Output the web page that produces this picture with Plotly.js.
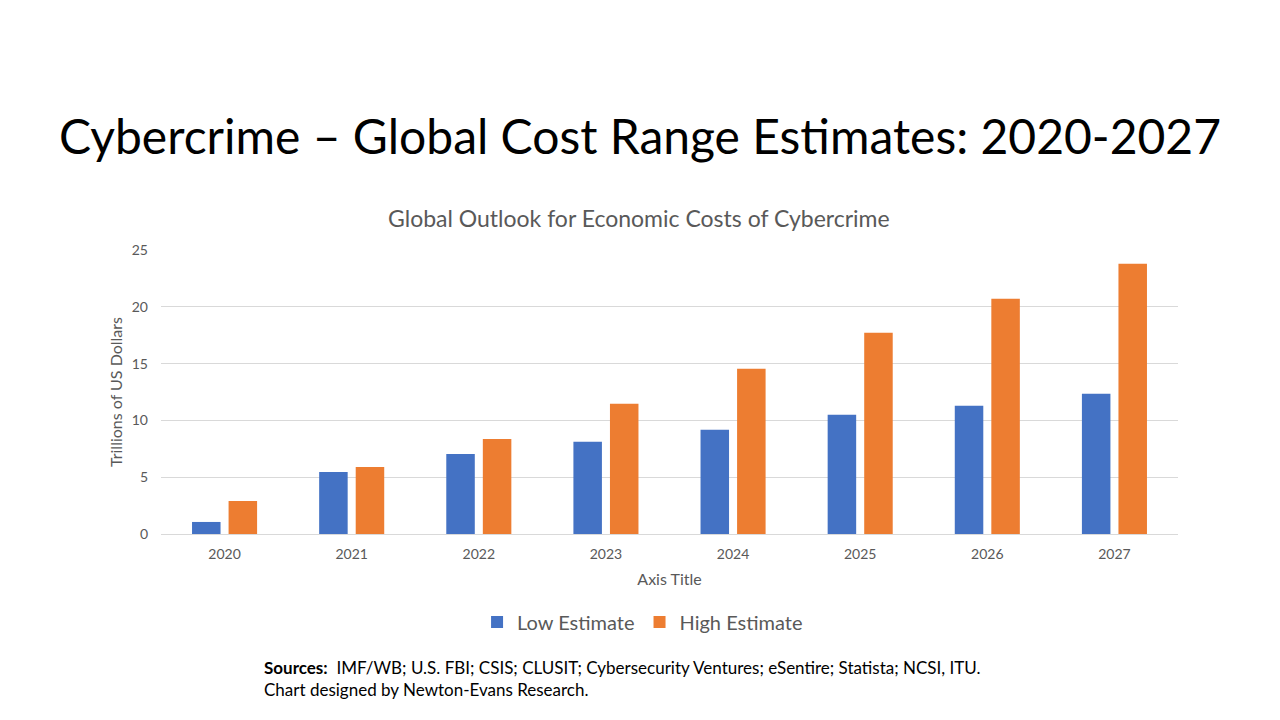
<!DOCTYPE html>
<html>
<head>
<meta charset="utf-8">
<script src="https://cdn.plot.ly/plotly-3.0.1.min.js"></script>
<style>html,body{margin:0;padding:0;background:#fff;}#chart{width:1280px;height:720px;}</style>
</head>
<body>
<div id="chart"></div>
<script>
const years = ["2020","2021","2022","2023","2024","2025","2026","2027"];
const lowEstimate = [1.06, 5.46, 7.05, 8.11, 9.17, 10.49, 11.28, 12.34];
const highEstimate = [2.91, 5.9, 8.37, 11.46, 14.54, 17.71, 20.71, 23.8];
const yTicks = [0, 5, 10, 15, 20, 25];

const FONT = "Lato, Carlito, 'Open Sans', sans-serif";
const GRAY = "#595959";

const traces = [
  {type: "bar", name: "Low Estimate", x: years, y: lowEstimate, marker: {color: "#4472C4"}, hoverinfo: "y"},
  {type: "bar", name: "High Estimate", x: years, y: highEstimate, marker: {color: "#ED7D31"}, hoverinfo: "y"}
];

// paper coords: plot area spans pixels x 161..1178, y 250..534
const px2py = p => (534 - p) / 284;
const px2px = p => (p - 161) / 1017;

const layout = {
  width: 1280, height: 720,
  paper_bgcolor: "#ffffff", plot_bgcolor: "#ffffff",
  font: {family: FONT, color: GRAY},
  margin: {l: 161, r: 102, t: 250, b: 186},
  barmode: "group", bargap: 0.425, bargroupgap: 0.22,
  showlegend: true,
  legend: {orientation: "h", x: 0.502, xanchor: "center", xref: "container", y: 1 - 622/720, yref: "container", yanchor: "middle",
           font: {size: 20, color: GRAY, family: FONT}, traceorder: "normal"},
  xaxis: {type: "category", showgrid: false, zeroline: false, showline: false, ticks: "",
          tickfont: {size: 14, color: GRAY}, ticklabelstandoff: 10,
          title: {text: "Axis Title", font: {size: 16, color: GRAY}, standoff: 12}},
  yaxis: {range: [0, 25], tickvals: yTicks, showgrid: true, gridcolor: "#D9D9D9", gridwidth: 1,
          zeroline: true, zerolinecolor: "#D9D9D9", zerolinewidth: 1, showline: false, ticks: "",
          tickfont: {size: 14, color: GRAY}, ticklabelstandoff: 12,
          title: {text: "Trillions of US Dollars", font: {size: 16, color: GRAY}, standoff: 5}},
  annotations: [
    {text: "Cybercrime – Global Cost Range Estimates: 2020-2027", xref: "paper", yref: "paper", x: px2px(640), y: px2py(135),
     xanchor: "center", yanchor: "middle", showarrow: false, font: {size: 48, color: "#000000", family: FONT}},
    {text: "Global Outlook for Economic Costs of Cybercrime", xref: "paper", yref: "paper", x: px2px(639), y: px2py(218),
     xanchor: "center", yanchor: "middle", showarrow: false, font: {size: 23, color: GRAY, family: FONT}},
    {text: "<b>Sources:</b>  IMF/WB; U.S. FBI; CSIS; CLUSIT; Cybersecurity Ventures; eSentire; Statista; NCSI, ITU.<br>Chart designed by Newton-Evans Research.",
     xref: "paper", yref: "paper", x: px2px(262), y: px2py(678), xanchor: "left", yanchor: "middle", align: "left",
     showarrow: false, font: {size: 17, color: "#000000", family: FONT}}
  ]
};

Plotly.newPlot("chart", traces, layout, {displayModeBar: false, staticPlot: true});
</script>
</body>
</html>
